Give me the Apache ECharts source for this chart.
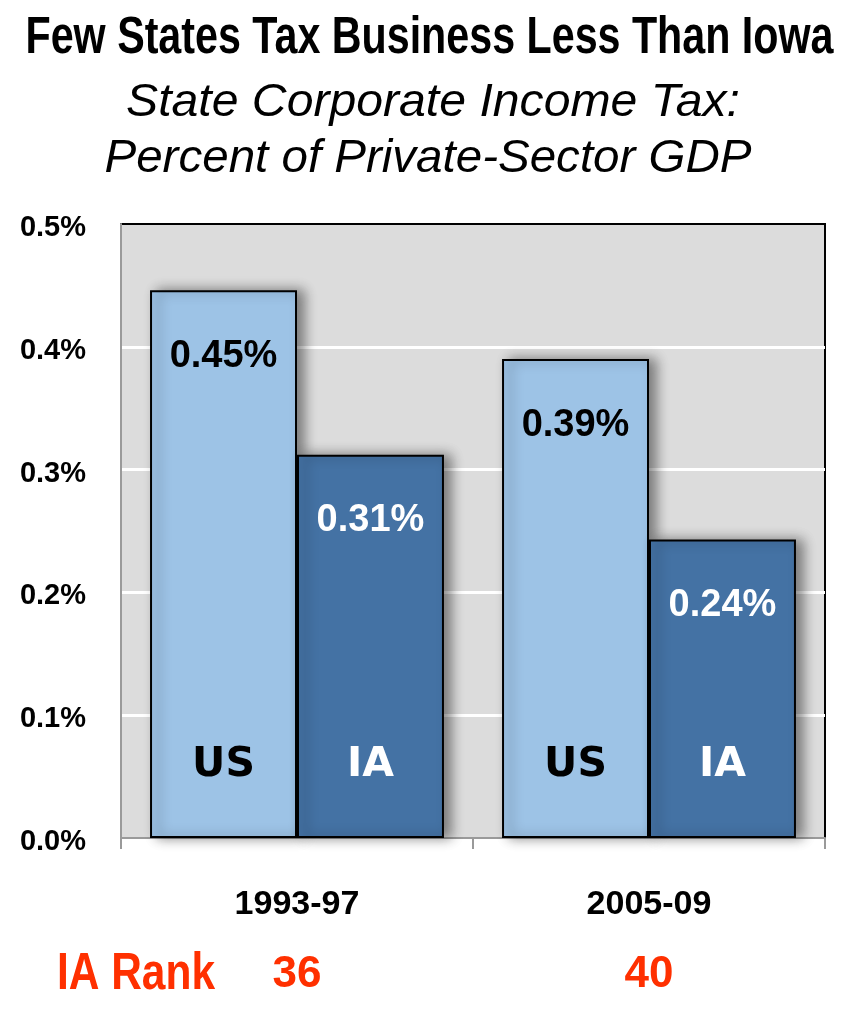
<!DOCTYPE html>
<html><head><meta charset="utf-8">
<script src="https://cdn.jsdelivr.net/npm/echarts@6/dist/echarts.min.js"></script>
<style>html,body{margin:0;padding:0;background:#fff}#c{width:859px;height:1024px}</style>
</head><body><div id="c"></div>
<script>
const categories = ['1993-97', '2005-09'];
const usValues = [0.446, 0.390];
const iaValues = [0.312, 0.243];
const iaRanks = [36, 40];
const yTicks = [0, 0.1, 0.2, 0.3, 0.4, 0.5];
const seriesNames = ['US', 'IA'];
const titleText = 'Few States Tax Business Less Than Iowa';
const subtitleLines = ['State Corporate Income Tax:', 'Percent of Private-Sector GDP'];
const rankLabel = 'IA Rank';

const sans = "'Liberation Sans', Arial, sans-serif";
const chart = echarts.init(document.getElementById('c'), null, {renderer: 'canvas'});

const ctx = document.createElement('canvas').getContext('2d');
function fitScale(text, font, width) {
  ctx.font = font;
  return width / ctx.measureText(text).width;
}

function barSeries(name, values, color, labelColor) {
  return {
    name: name,
    type: 'bar',
    data: values,
    barGap: '0%',
    barCategoryGap: '16.5%',
    itemStyle: {
      color: color, borderColor: '#000', borderWidth: 2,
      shadowColor: 'rgba(0,0,0,0.45)', shadowBlur: 12, shadowOffsetX: 7, shadowOffsetY: 0
    },
    label: {
      show: true, position: 'insideTop', distance: 47,
      formatter: p => p.value.toFixed(2) + '%',
      color: labelColor, fontFamily: sans, fontWeight: 'bold', fontSize: 38
    },
    markPoint: {
      symbol: 'circle', symbolSize: 0,
      itemStyle: {color: 'transparent', shadowBlur: 0},
      label: {
        show: true, position: 'inside', offset: [0, -73],
        formatter: name, color: labelColor,
        fontFamily: "'DejaVu Sans', Verdana, sans-serif", fontWeight: 'bold', fontSize: 41
      },
      data: values.map((v, i) => ({coord: [i, 0]}))
    }
  };
}

const titleFont = 'bold 51px ' + sans;
const subFont = 'italic 46px ' + sans;
const rankFont = 'bold 52px ' + sans;

chart.setOption({
  animation: false,
  backgroundColor: '#fff',
  graphic: [
    {type: 'text', x: 429.5, y: 39, scaleX: fitScale(titleText, titleFont, 808),
     style: {text: titleText, font: titleFont, fill: '#000', align: 'center', verticalAlign: 'middle'}},
    {type: 'text', x: 433, y: 103, scaleX: fitScale(subtitleLines[0], subFont, 614),
     style: {text: subtitleLines[0], font: subFont, fill: '#000', align: 'center', verticalAlign: 'middle'}},
    {type: 'text', x: 428, y: 159, scaleX: fitScale(subtitleLines[1], subFont, 647),
     style: {text: subtitleLines[1], font: subFont, fill: '#000', align: 'center', verticalAlign: 'middle'}},
    {type: 'text', x: 57, y: 975, scaleX: fitScale(rankLabel, rankFont, 158),
     style: {text: rankLabel, font: rankFont, fill: '#ff3000', align: 'left', verticalAlign: 'middle'}}
  ],
  grid: {left: 121, right: 34, top: 224, bottom: 186, show: true,
         backgroundColor: '#dcdcdc', borderColor: '#000', borderWidth: 2},
  xAxis: {
    type: 'category', data: categories,
    axisLine: {lineStyle: {color: '#9a9a9a', width: 2}},
    axisTick: {show: true, length: 11, lineStyle: {color: '#9a9a9a', width: 2}},
    axisLabel: {
      margin: 32,
      formatter: (v, i) => '{c|' + v + '}\n{r|' + iaRanks[i] + '}',
      rich: {
        c: {fontFamily: sans, fontWeight: 'bold', fontSize: 34, color: '#000', lineHeight: 70},
        r: {fontFamily: sans, fontWeight: 'bold', fontSize: 44, color: '#ff3000', lineHeight: 70}
      }
    }
  },
  yAxis: {
    type: 'value', min: 0, max: 0.5, interval: 0.1,
    axisLine: {show: true, lineStyle: {color: '#9a9a9a', width: 2}},
    axisTick: {show: false},
    splitLine: {show: true, showMinLine: false, showMaxLine: false, lineStyle: {color: '#ffffff', width: 3}},
    axisLabel: {
      margin: 35,
      formatter: v => '{t|' + yTicks.find(t => Math.abs(t - v) < 1e-9).toFixed(1) + '%}',
      rich: {
        t: {fontFamily: sans, fontWeight: 'bold', fontSize: 29, color: '#000', padding: [8, 0, 0, 0]}
      }
    }
  },
  series: [
    barSeries(seriesNames[0], usValues, '#9dc3e6', '#000'),
    barSeries(seriesNames[1], iaValues, '#4472a4', '#fff')
  ]
});
</script></body></html>
